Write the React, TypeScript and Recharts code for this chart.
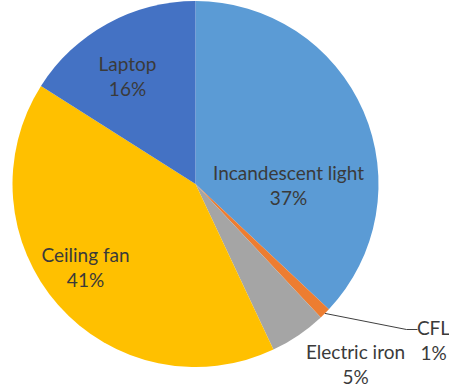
import React from "react";
import { PieChart, Pie, Cell } from "recharts";

// Share of household electricity use by appliance (%)
const appliances = ["Incandescent light", "CFL", "Electric iron", "Ceiling fan", "Laptop"];
const shares = [37, 1, 5, 41, 16];
const sliceColors = ["#5B9BD5", "#ED7D31", "#A5A5A5", "#FFC000", "#4472C4"];

// Label block centres, as offsets from the pie centre (px)
const labelOffsets = [
  { dx: 93, dy: 1 },
  { dx: 238, dy: 156 },
  { dx: 160, dy: 180 },
  { dx: -110, dy: 83 },
  { dx: -68, dy: -108 },
];

const data = appliances.map((name, i) => ({ name, value: shares[i] }));
const total = shares.reduce((a, b) => a + b, 0);

const RADIAN = Math.PI / 180;
const LINE_GAP = 25;

const renderLabel = (props: any) => {
  const { cx, cy, midAngle, outerRadius, index, value } = props;
  const off = labelOffsets[index];
  const x = cx + off.dx;
  const y = cy + off.dy;
  const pct = `${Math.round((value / total) * 100)}%`;
  const textStyle = {
    fontFamily: "Lato, 'Open Sans', sans-serif",
    fontSize: 19,
    fill: "#3a3a3a",
  };
  let leader = null;
  if (appliances[index] === "CFL") {
    const sx = cx + outerRadius * Math.cos(-midAngle * RADIAN);
    const sy = cy + outerRadius * Math.sin(-midAngle * RADIAN);
    const ey = y - LINE_GAP / 2 + 2;
    const ex = x - 16;
    leader = (
      <path
        d={`M${sx},${sy} L${ex - 11},${ey} L${ex},${ey}`}
        stroke="#404040"
        strokeWidth={1}
        fill="none"
      />
    );
  }
  return (
    <g key={`label-${index}`}>
      {leader}
      <text x={x} y={y - LINE_GAP / 2} textAnchor="middle" dominantBaseline="central" style={textStyle}>
        {appliances[index]}
      </text>
      <text x={x} y={y + LINE_GAP / 2} textAnchor="middle" dominantBaseline="central" style={textStyle}>
        {pct}
      </text>
    </g>
  );
};

export default function App() {
  return (
    <div style={{ position: "absolute", left: 0, top: 0, width: 449, height: 387, background: "#fff", overflow: "hidden" }}>
      <PieChart width={449} height={387} margin={{ top: 0, right: 0, bottom: 0, left: 0 }} style={{ overflow: "visible" }}>
        <Pie
          data={data}
          dataKey="value"
          nameKey="name"
          cx={195.5}
          cy={184}
          outerRadius={183}
          startAngle={90}
          endAngle={-270}
          stroke="none"
          label={renderLabel}
          labelLine={false}
          isAnimationActive={false}
        >
          {data.map((d, i) => (
            <Cell key={d.name} fill={sliceColors[i]} />
          ))}
        </Pie>
      </PieChart>
    </div>
  );
}
